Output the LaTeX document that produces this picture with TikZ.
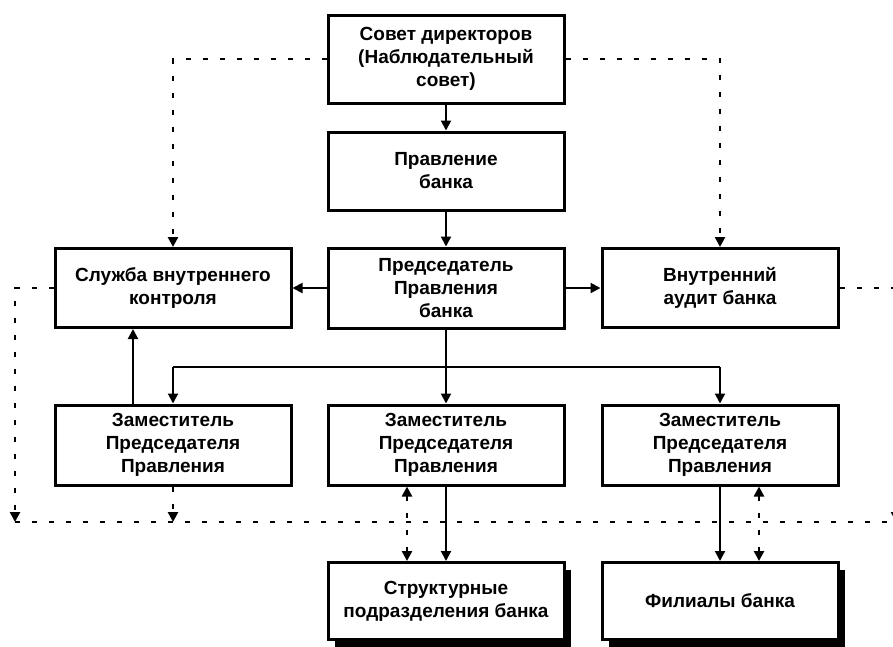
\documentclass[tikz,border=0pt]{standalone}
\usepackage{fontspec}
\setmainfont{Liberation Sans}
\usetikzlibrary{arrows.meta,shadows}
\begin{document}
\begin{tikzpicture}[x=1pt,y=-1pt,
  box/.style={draw=black, line width=3pt, fill=white, align=center, inner sep=0pt,
    minimum width=236pt, font=\fontsize{19}{23}\selectfont\bfseries},
  shadowbox/.style={box, drop shadow={shadow xshift=7pt, shadow yshift=-7pt, fill=black, opacity=1}},
  conn/.style={line width=2pt, -{Triangle[length=10pt,width=10pt]}},
  dconn/.style={line width=2.6pt, dash pattern=on 5pt off 12pt, -{Triangle[length=10pt,width=10pt]}},
  ddconn/.style={line width=2.6pt, dash pattern=on 5pt off 12pt, {Triangle[length=10pt,width=10pt]}-{Triangle[length=10pt,width=10pt]}},
  dline/.style={line width=2.6pt, dash pattern=on 5pt off 12pt}]
\useasboundingbox (0,0) rectangle (893,646);
\clip (0,0) rectangle (893,646);
\fill[white] (0,0) rectangle (893,646);

% nodes
\node[box, minimum height=88pt] (sovet) at (446,59) {Совет директоров\\(Наблюдательный\\совет)};
\node[box, minimum height=78pt] (pravl) at (446,171) {Правление\\банка};
\node[box, minimum height=80pt] (pred) at (446,288) {Председатель\\Правления\\банка};
\node[box, minimum height=79pt] (sluzh) at (173,288) {Служба внутреннего\\контроля};
\node[box, minimum height=79pt] (audit) at (720,288) {Внутренний\\аудит банка};
\node[box, minimum height=80pt] (depL) at (173,445) {Заместитель\\Председателя\\Правления};
\node[box, minimum height=80pt] (depM) at (446,445) {Заместитель\\Председателя\\Правления};
\node[box, minimum height=80pt] (depR) at (720,445) {Заместитель\\Председателя\\Правления};
\node[shadowbox, minimum height=77pt] (strukt) at (446,601) {Структурные\\подразделения банка};
\node[shadowbox, minimum height=77pt] (filial) at (720,601) {Филиалы банка};

% helper coordinates
\coordinate (tl) at (173,59);
\coordinate (tr) at (720,59);
\coordinate (hb) at (446,367);
\coordinate (hl) at (173,367);
\coordinate (hr) at (720,367);
\coordinate (sl) at (15,288);
\coordinate (bl) at (15,522);
\coordinate (sr) at (896,288);
\coordinate (br) at (896,522);
\coordinate (bend) at (893,522);
\coordinate (dlb) at (173,522);

% solid connectors
\draw[conn] (sovet.south) -- (pravl.north);
\draw[conn] (pravl.south) -- (pred.north);
\draw[conn] (pred.west) -- (sluzh.east);
\draw[conn] (pred.east) -- (audit.west);
\draw[line width=2pt] (pred.south) -- (hb);
\draw[line width=2pt] (hl) -- (hr);
\draw[conn] (hl) -- (depL.north);
\draw[conn] (hb) -- (depM.north);
\draw[conn] (hr) -- (depR.north);
\draw[conn] (depL.north -| 133,0) -- (sluzh.south -| 133,0);
\draw[conn] (depM.south) -- (strukt.north);
\draw[conn] (depR.south) -- (filial.north);

% dashed connectors
\draw[dconn] (sovet.west |- tl) -- (tl) -- (sluzh.north);
\draw[dconn] (sovet.east |- tr) -- (tr) -- (audit.north);
\draw[dconn] (sluzh.west) -- (sl) -- (bl);
\draw[dconn] (audit.east) -- (sr) -- (br);
\draw[dline] (bl) -- (bend);
\draw[dconn] (depL.south) -- (dlb);
\draw[ddconn] (depM.south -| 407,0) -- (strukt.north -| 407,0);
\draw[ddconn] (depR.south -| 759,0) -- (filial.north -| 759,0);
\end{tikzpicture}
\end{document}
